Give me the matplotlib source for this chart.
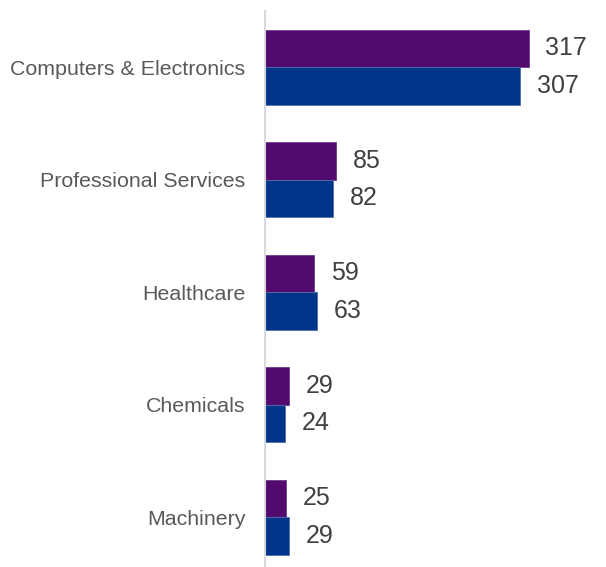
import matplotlib.pyplot as plt
import numpy as np

plt.rcParams['font.family'] = ['Liberation Sans', 'DejaVu Sans']

# data
categories = ['Computers & Electronics', 'Professional Services', 'Healthcare',
              'Chemicals', 'Machinery']
series_a = [317, 85, 59, 29, 25]   # purple (top bar)
series_b = [307, 82, 63, 24, 29]   # blue (bottom bar)

purple = '#520A6E'
blue = '#00358A'

fig = plt.figure(figsize=(6.06, 5.67), dpi=100)
ax = fig.add_axes([265/606, 0, (600-265)/606, 1 - 11/567])

y = np.arange(len(categories))
h = 1/3
ax.barh(y - h/2, series_a, height=h, color=purple, edgecolor='#6B3A86', linewidth=0.6)
ax.barh(y + h/2, series_b, height=h, color=blue, edgecolor='#4D6FAF', linewidth=0.6)

for i in range(len(categories)):
    ax.annotate(str(series_a[i]), (series_a[i], y[i] - h/2), xytext=(12, 0),
                textcoords='offset points', va='center', ha='left',
                fontsize=18, color='#404040')
    ax.annotate(str(series_b[i]), (series_b[i], y[i] + h/2), xytext=(12, 0),
                textcoords='offset points', va='center', ha='left',
                fontsize=18, color='#404040')

ax.set_xlim(0, (600-265)/0.832)
ax.set_ylim(4 + 50/112.5, -0.5)
ax.set_yticks(y)
ax.set_yticklabels(categories, fontsize=15.4, color='#595959')
ax.tick_params(axis='y', length=0, pad=14)
ax.set_xticks([])

for s in ['top', 'right', 'bottom']:
    ax.spines[s].set_visible(False)
ax.spines['left'].set_color('#D9D9D9')
ax.spines['left'].set_linewidth(1.5)

fig.savefig('out.png', dpi=100)
